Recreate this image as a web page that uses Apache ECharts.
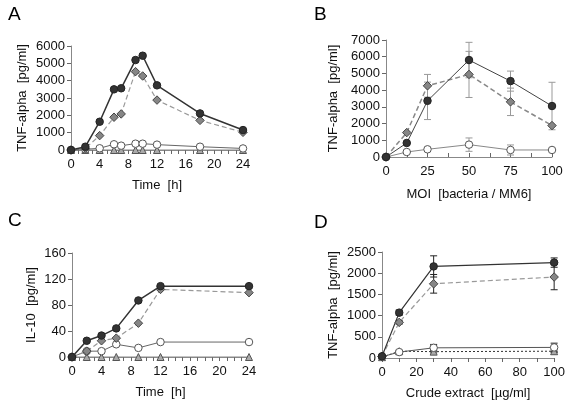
<!DOCTYPE html>
<html><head><meta charset="utf-8">
<script src="https://cdn.jsdelivr.net/npm/echarts@6/dist/echarts.min.js"></script>
<style>html,body{margin:0;padding:0;background:#fff}#c{width:568px;height:403px}</style>
</head><body><div id="c"></div>
<script>
// ---- Panel A: TNF-alpha time course ----
var aTime = [0, 2, 4, 6, 7, 9, 10, 12, 18, 24];
var aBlack = [0, 190, 1630, 3500, 3560, 5190, 5440, 3730, 2110, 1150];
var aGray = [0, 100, 830, 1890, 2080, 4520, 4270, 2880, 1710, 1020];
var aOpen = [0, 40, 100, 330, 250, 365, 365, 310, 190, 90];
var aTri = [0, 0, 0, 0, 0, 0, 0, 0, 0, 0];
// ---- Panel B: MOI ----
var bMoi = [0, 12.5, 25, 50, 75, 100];
var bBlack = [0, 840, 3360, 5800, 4540, 3050];
var bGray = [0, 1460, 4260, 4940, 3300, 1880];
var bOpen = [0, 300, 460, 740, 420, 420];
var bErrBlack = [0, 0, 1120, 1060, 600, 1420];
var bErrGray = [0, 0, 680, 1380, 820, 0];
var bErrOpen = [0, 0, 0, 400, 300, 0];
// ---- Panel C: IL-10 time course ----
var cTime = [0, 2, 4, 6, 9, 12, 24];
var cBlack = [0, 25, 33, 44, 87, 109, 109];
var cGray = [0, 9, 25, 29, 52, 104, 99];
var cOpen = [0, 9, 9, 19.5, 14, 23, 23];
var cTri = [0, 0, 0, 0, 0, 0, 0];
// ---- Panel D: crude extract ----
var dConc = [0, 10, 30, 100];
var dBlack = [40, 1070, 2160, 2250];
var dGray = [40, 840, 1750, 1910];
var dOpen = [30, 140, 240, 250];
var dTri = [20, 160, 150, 160];
var dErrBlack = [0, 60, 250, 110];
var dErrGray = [0, 40, 220, 300];
var dErrOpen = [0, 30, 80, 100];
var dErrTri = [0, 20, 30, 30];

var FONT = "'Liberation Sans', Arial, sans-serif";
function pairs(xs, ys) { return xs.map(function (x, i) { return [x, ys[i]]; }); }
function triples(xs, ys, es) { return xs.map(function (x, i) { return [x, ys[i], es[i]]; }); }

var styles = {
  black: { symbol: 'circle', size: 7.5, fill: '#333', border: '#222', line: '#333', width: 1.5, type: 'solid' },
  gray: { symbol: 'diamond', size: 8.5, fill: '#868686', border: '#444', line: '#999', width: 1.2, type: [5, 3] },
  open: { symbol: 'circle', size: 7.5, fill: '#fff', border: '#555', line: '#666', width: 1, type: 'solid' },
  tri: { symbol: 'triangle', size: 7, fill: '#aaa', border: '#555', line: '#888', width: 1, type: 'solid' }
};
function line(idx, data, st, over) {
  over = over || {};
  return {
    type: 'line', xAxisIndex: idx, yAxisIndex: idx, data: data,
    symbol: st.symbol, symbolSize: st.size, showSymbol: true,
    itemStyle: { color: st.fill, borderColor: st.border, borderWidth: 1 },
    lineStyle: { color: over.line || st.line, width: over.width || st.width, type: over.type || st.type },
    z: 3, animation: false
  };
}
function errs(idx, data, color) {
  return {
    type: 'custom', xAxisIndex: idx, yAxisIndex: idx, data: data, z: 2, animation: false,
    renderItem: function (params, api) {
      var e = api.value(2);
      if (!e) return null;
      var x = api.value(0), y = api.value(1);
      var top = api.coord([x, y + e]), bot = api.coord([x, y - e]);
      var w = 3.5;
      return {
        type: 'group', children: [
          { type: 'line', shape: { x1: top[0], y1: top[1], x2: bot[0], y2: bot[1] }, style: { stroke: color, lineWidth: 1 } },
          { type: 'line', shape: { x1: top[0] - w, y1: top[1], x2: top[0] + w, y2: top[1] }, style: { stroke: color, lineWidth: 1 } },
          { type: 'line', shape: { x1: bot[0] - w, y1: bot[1], x2: bot[0] + w, y2: bot[1] }, style: { stroke: color, lineWidth: 1 } }
        ]
      };
    }
  };
}
var axisLineStyle = { lineStyle: { color: '#888', width: 1 } };
function xAxis(idx, min, max, interval, labelEvery, name, gap, inside) {
  return {
    type: 'value', gridIndex: idx, min: min, max: max, interval: interval,
    name: name, nameLocation: 'middle', nameGap: gap,
    nameTextStyle: { fontFamily: FONT, fontSize: 13, color: '#111' },
    axisLine: axisLineStyle,
    axisTick: { show: true, inside: !!inside, length: 4, lineStyle: { color: '#666' } },
    axisLabel: {
      fontFamily: FONT, fontSize: 13, color: '#111', margin: 8, showMinLabel: true, showMaxLabel: true,
      formatter: function (v) { return (Math.abs(v / labelEvery - Math.round(v / labelEvery)) < 1e-6) ? String(v) : ''; }
    },
    splitLine: { show: false }
  };
}
function yAxis(idx, min, max, interval, name, gap) {
  return {
    type: 'value', gridIndex: idx, min: min, max: max, interval: interval,
    name: name, nameLocation: 'middle', nameGap: gap, nameRotate: 90,
    nameTextStyle: { fontFamily: FONT, fontSize: 13, color: '#111' },
    axisLine: { show: true, lineStyle: { color: '#888', width: 1 } },
    axisTick: { show: true, length: 4, lineStyle: { color: '#666' } },
    axisLabel: { fontFamily: FONT, fontSize: 13, color: '#111', margin: 6, formatter: function (v) { return String(v); } },
    splitLine: { show: false }
  };
}

var option = {
  backgroundColor: '#fff',
  animation: false,
  title: [
    { text: 'A', left: 3, top: 0, textStyle: { fontFamily: FONT, fontSize: 19, fontWeight: 'normal', color: '#000' } },
    { text: 'B', left: 309, top: 0, textStyle: { fontFamily: FONT, fontSize: 19, fontWeight: 'normal', color: '#000' } },
    { text: 'C', left: 3, top: 206, textStyle: { fontFamily: FONT, fontSize: 19, fontWeight: 'normal', color: '#000' } },
    { text: 'D', left: 309, top: 208, textStyle: { fontFamily: FONT, fontSize: 19, fontWeight: 'normal', color: '#000' } }
  ],
  grid: [
    { left: 71, top: 46, width: 172, height: 104 },
    { left: 386, top: 40, width: 166, height: 117 },
    { left: 72, top: 253, width: 177, height: 104 },
    { left: 382, top: 252, width: 174, height: 106 }
  ],
  xAxis: [
    xAxis(0, 0, 24, 1, 4, 'Time  [h]', 29),
    xAxis(1, 0, 100, 12.5, 25, 'MOI  [bacteria / MM6]', 31, true),
    xAxis(2, 0, 24, 1, 4, 'Time  [h]', 29),
    xAxis(3, 0, 100, 10, 20, 'Crude extract  [\u00b5g/ml]', 29)
  ],
  yAxis: [
    yAxis(0, 0, 6000, 1000, 'TNF-alpha  [pg/ml]', 42),
    yAxis(1, 0, 7000, 1000, 'TNF-alpha  [pg/ml]', 46),
    yAxis(2, 0, 160, 40, 'IL-10  [pg/ml]', 34),
    yAxis(3, 0, 2500, 500, 'TNF-alpha  [pg/ml]', 42)
  ],
  series: [
    line(0, pairs(aTime, aTri), styles.tri),
    line(0, pairs(aTime, aOpen), styles.open),
    line(0, pairs(aTime, aGray), styles.gray),
    line(0, pairs(aTime, aBlack), styles.black),

    errs(1, triples(bMoi, bBlack, bErrBlack), '#999'),
    errs(1, triples(bMoi, bGray, bErrGray), '#999'),
    errs(1, triples(bMoi, bOpen, bErrOpen), '#999'),
    line(1, pairs(bMoi, bOpen), styles.open, { line: '#888' }),
    line(1, pairs(bMoi, bGray), styles.gray, { line: '#888', width: 1.5 }),
    line(1, pairs(bMoi, bBlack), styles.black, { line: '#444', width: 1 }),

    line(2, pairs(cTime, cTri), styles.tri),
    line(2, pairs(cTime, cOpen), styles.open),
    line(2, pairs(cTime, cGray), styles.gray),
    line(2, pairs(cTime, cBlack), styles.black),

    errs(3, triples(dConc, dBlack, dErrBlack), '#222'),
    errs(3, triples(dConc, dGray, dErrGray), '#222'),
    errs(3, triples(dConc, dOpen, dErrOpen), '#222'),
    errs(3, triples(dConc, dTri, dErrTri), '#222'),
    line(3, pairs(dConc, dTri), styles.tri, { line: '#333', type: [2, 2] }),
    line(3, pairs(dConc, dOpen), styles.open, { line: '#555' }),
    line(3, pairs(dConc, dGray), styles.gray),
    line(3, pairs(dConc, dBlack), styles.black, { width: 1.2 })
  ]
};
var chart = echarts.init(document.getElementById('c'), null, { renderer: 'canvas' });
chart.setOption(option);
</script>
</body></html>
